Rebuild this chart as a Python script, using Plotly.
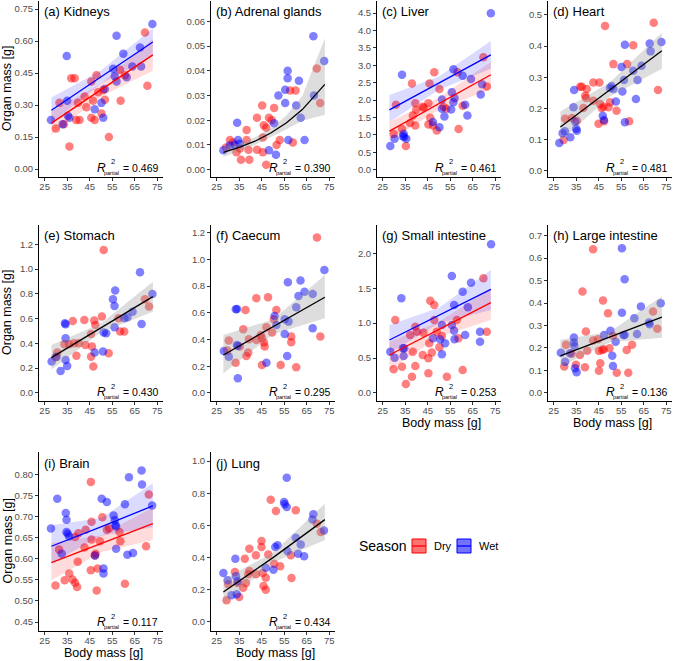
import plotly.graph_objects as go

W, H = 685, 661

# ---------------- data ----------------
xticks = [25, 35, 45, 55, 65, 75]
fit_x3 = [28, 50, 73]
fit_x7 = [28, 35, 42, 49, 56, 63, 73]

# (a) Kidneys
kid_wet_x = [27.8, 33.0, 34.8, 35.0, 35.3, 36.0, 47.2, 50.2, 51.0, 51.7, 55.4, 56.1, 56.9, 56.9, 59.9, 61.4, 63.9, 67.3, 67.8, 72.8]
kid_wet_y = [0.23, 0.21, 0.53, 0.32, 0.25, 0.24, 0.28, 0.31, 0.24, 0.375, 0.47, 0.435, 0.625, 0.41, 0.54, 0.43, 0.48, 0.57, 0.48, 0.68]
kid_dry_x = [30.0, 31.6, 33.5, 36.0, 36.8, 38.3, 39.0, 39.8, 40.5, 42.7, 43.5, 45.7, 45.7, 46.5, 47.2, 48.0, 48.7, 50.2, 51.0, 51.7, 53.5, 58.4, 58.7, 60.6, 69.5, 70.6]
kid_dry_y = [0.19, 0.31, 0.21, 0.105, 0.425, 0.425, 0.23, 0.31, 0.23, 0.34, 0.29, 0.24, 0.41, 0.32, 0.23, 0.44, 0.36, 0.26, 0.37, 0.325, 0.15, 0.465, 0.32, 0.44, 0.64, 0.39]
kid_fit_wet = [0.275, 0.431, 0.595]
kid_lo_wet = [0.215, 0.400, 0.530]
kid_hi_wet = [0.335, 0.462, 0.660]
kid_fit_dry = [0.215, 0.371, 0.535]
kid_lo_dry = [0.160, 0.340, 0.460]
kid_hi_dry = [0.270, 0.400, 0.610]
kid_yticks = [0.0, 0.15, 0.30, 0.45, 0.60, 0.75]
kid_ylabels = ["0.00", "0.15", "0.30", "0.45", "0.60", "0.75"]

# (b) Adrenal glands
adr_wet_x = [28.0, 30.8, 33.0, 34.1, 34.5, 35.3, 48.2, 50.5, 51.3, 52.4, 55.4, 55.4, 56.5, 56.5, 56.8, 60.3, 61.5, 62.3, 64.0, 67.9, 68.2, 72.7]
adr_wet_y = [0.0078, 0.0098, 0.0101, 0.019, 0.012, 0.0105, 0.0078, 0.0188, 0.006, 0.030, 0.0323, 0.027, 0.040, 0.037, 0.012, 0.026, 0.036, 0.021, 0.012, 0.054, 0.030, 0.044]
adr_dry_x = [29.2, 30.9, 32.3, 33.8, 35.3, 35.8, 38.3, 38.3, 39.1, 39.5, 42.9, 42.9, 45.2, 45.5, 45.5, 45.9, 47.0, 47.0, 48.2, 49.4, 50.5, 51.6, 53.0, 57.6, 58.8, 60.0, 69.4, 70.9]
adr_dry_y = [0.009, 0.012, 0.011, 0.007, 0.0085, 0.004, 0.016, 0.012, 0.008, 0.004, 0.021, 0.008, 0.026, 0.013, 0.007, 0.018, 0.017, 0.002, 0.021, 0.020, 0.025, 0.010, 0.012, 0.032, 0.011, 0.032, 0.041, 0.027]
adr_fit = [0.0070, 0.0090, 0.0115, 0.0148, 0.0190, 0.0243, 0.0345]
adr_lo = [0.0052, 0.0074, 0.0100, 0.0131, 0.0163, 0.0198, 0.0222]
adr_hi = [0.0091, 0.0107, 0.0131, 0.0166, 0.0220, 0.0298, 0.0532]
adr_yticks = [0.0, 0.01, 0.02, 0.03, 0.04, 0.05, 0.06]
adr_ylabels = ["0.00", "0.01", "0.02", "0.03", "0.04", "0.05", "0.06"]

# (c) Liver
liv_wet_x = [28.4, 30.3, 33.6, 34.0, 34.3, 34.6, 35.5, 47.3, 50.2, 51.3, 51.3, 52.4, 55.4, 55.7, 56.4, 56.4, 56.9, 60.5, 61.6, 62.6, 64.2, 68.5, 69.1, 73.0]
liv_wet_y = [0.68, 0.89, 2.73, 0.96, 1.03, 0.94, 0.89, 1.37, 1.22, 2.02, 1.75, 1.53, 1.73, 2.23, 2.89, 1.94, 2.06, 2.70, 1.87, 1.56, 2.61, 2.16, 2.46, 4.5]
liv_dry_x = [29.9, 30.9, 33.6, 35.3, 37.2, 38.0, 38.4, 39.5, 39.5, 39.9, 42.8, 43.2, 45.3, 45.3, 45.8, 46.1, 47.3, 47.9, 49.0, 50.2, 52.0, 53.2, 58.2, 58.7, 60.5, 69.7, 71.2]
liv_dry_y = [1.03, 1.87, 1.17, 0.68, 1.34, 2.48, 1.56, 1.91, 1.27, 1.72, 1.81, 1.78, 1.91, 1.30, 2.48, 1.49, 1.27, 2.80, 1.13, 2.32, 1.81, 1.75, 2.80, 1.17, 1.84, 3.23, 2.39]
liv_fit_wet = [1.72, 2.49, 3.30]
liv_lo_wet = [1.37, 2.30, 2.90]
liv_hi_wet = [2.15, 2.68, 3.70]
liv_fit_dry = [1.11, 1.90, 2.73]
liv_lo_dry = [0.84, 1.73, 2.32]
liv_hi_dry = [1.38, 2.07, 3.10]
liv_yticks = [0.0, 0.5, 1.0, 1.5, 2.0, 2.5, 3.0, 3.5, 4.0, 4.5]
liv_ylabels = ["0.0", "0.5", "1.0", "1.5", "2.0", "2.5", "3.0", "3.5", "4.0", "4.5"]

# (d) Heart
hea_wet_x = [27.5, 29.0, 30.0, 32.4, 33.8, 34.1, 34.6, 35.0, 35.3, 46.8, 47.3, 50.0, 50.7, 51.5, 52.6, 55.1, 55.5, 56.2, 56.6, 56.6, 60.3, 61.5, 62.2, 64.0, 67.6, 68.0, 72.8]
hea_wet_y = [0.088, 0.12, 0.126, 0.107, 0.203, 0.259, 0.157, 0.134, 0.128, 0.176, 0.162, 0.265, 0.272, 0.262, 0.222, 0.333, 0.254, 0.291, 0.404, 0.155, 0.321, 0.230, 0.291, 0.337, 0.408, 0.383, 0.413]
hea_dry_x = [29.4, 30.1, 33.1, 35.3, 36.8, 37.5, 38.2, 39.0, 39.4, 39.7, 42.6, 42.6, 44.9, 45.3, 45.6, 46.3, 47.1, 47.4, 47.8, 49.3, 50.0, 51.5, 52.9, 57.6, 58.5, 60.3, 69.4, 71.3]
hea_dry_y = [0.098, 0.166, 0.169, 0.160, 0.269, 0.269, 0.201, 0.240, 0.233, 0.262, 0.224, 0.283, 0.150, 0.283, 0.214, 0.201, 0.205, 0.158, 0.465, 0.203, 0.219, 0.342, 0.192, 0.342, 0.158, 0.403, 0.475, 0.259]
hea_fit = [0.140, 0.260, 0.385]
hea_lo = [0.095, 0.238, 0.327]
hea_hi = [0.190, 0.284, 0.443]
hea_yticks = [0.0, 0.1, 0.2, 0.3, 0.4, 0.5]
hea_ylabels = ["0.0", "0.1", "0.2", "0.3", "0.4", "0.5"]

# (e) Stomach
sto_wet_x = [28.1, 30.3, 32.1, 34.0, 34.3, 34.3, 34.3, 35.0, 47.2, 50.9, 51.2, 52.3, 55.3, 56.0, 56.3, 56.0, 60.4, 61.7, 64.0, 67.3, 68.0, 72.8]
sto_wet_y = [0.253, 0.293, 0.178, 0.562, 0.554, 0.441, 0.266, 0.218, 0.326, 0.334, 0.487, 0.482, 0.756, 0.702, 0.826, 0.530, 0.603, 0.611, 0.656, 0.974, 0.557, 0.799]
sto_dry_x = [29.9, 30.6, 33.8, 35.8, 37.5, 38.0, 39.1, 40.1, 42.6, 43.1, 45.6, 45.6, 46.0, 46.6, 47.0, 47.5, 50.4, 51.2, 53.4, 57.8, 58.5, 60.3, 69.5, 71.3]
sto_dry_y = [0.288, 0.326, 0.393, 0.393, 0.581, 0.401, 0.301, 0.401, 0.589, 0.387, 0.293, 0.476, 0.374, 0.213, 0.584, 0.549, 0.616, 1.154, 0.320, 0.603, 0.495, 0.495, 0.756, 0.697]
sto_fit = [0.285, 0.525, 0.777]
sto_lo = [0.190, 0.490, 0.656]
sto_hi = [0.387, 0.560, 0.898]
sto_yticks = [0.0, 0.2, 0.4, 0.6, 0.8, 1.0, 1.2]
sto_ylabels = ["0.0", "0.2", "0.4", "0.6", "0.8", "1.0", "1.2"]

# (f) Caecum
cae_wet_x = [28.2, 30.4, 33.5, 34.0, 34.0, 34.4, 34.4, 47.1, 50.7, 51.5, 55.2, 55.2, 56.3, 56.6, 56.9, 60.3, 61.3, 62.2, 64.0, 67.6, 67.6, 72.8]
cae_wet_y = [0.314, 0.272, 0.626, 0.629, 0.359, 0.352, 0.110, 0.227, 0.576, 0.509, 0.551, 0.442, 0.277, 0.828, 0.534, 0.641, 0.726, 0.841, 0.758, 0.741, 0.484, 0.921]
cae_dry_x = [29.7, 30.4, 33.4, 35.3, 36.8, 37.8, 38.2, 39.0, 39.3, 42.6, 42.6, 44.6, 45.1, 45.1, 46.0, 46.3, 47.1, 47.8, 49.6, 50.4, 51.5, 53.4, 58.1, 58.1, 60.3, 69.5, 71.0]
cae_dry_y = [0.317, 0.392, 0.227, 0.347, 0.477, 0.621, 0.277, 0.302, 0.402, 0.709, 0.397, 0.434, 0.409, 0.210, 0.377, 0.347, 0.492, 0.716, 0.452, 0.551, 0.621, 0.210, 0.422, 0.379, 0.192, 1.163, 0.422]
cae_fit = [0.284, 0.495, 0.716]
cae_lo = [0.147, 0.440, 0.559]
cae_hi = [0.434, 0.550, 0.883]
cae_yticks = [0.0, 0.2, 0.4, 0.6, 0.8, 1.0, 1.2]
cae_ylabels = ["0.0", "0.2", "0.4", "0.6", "0.8", "1.0", "1.2"]

# (g) Small intestine
sin_wet_x = [28.4, 30.3, 33.3, 34.0, 34.3, 34.6, 47.3, 50.5, 51.3, 51.3, 52.7, 55.7, 55.7, 56.7, 56.7, 56.9, 60.5, 61.6, 62.8, 64.2, 68.2, 68.2, 73.1]
sin_wet_y = [0.592, 0.506, 1.356, 0.640, 0.530, 0.640, 0.783, 0.769, 0.974, 0.554, 0.711, 1.675, 0.974, 0.893, 1.260, 0.769, 1.451, 0.831, 1.227, 1.580, 0.878, 0.735, 2.129]
sin_dry_x = [29.9, 30.6, 33.6, 35.3, 37.2, 38.0, 38.4, 39.5, 39.5, 40.2, 42.8, 43.1, 45.3, 45.3, 45.7, 46.1, 46.8, 47.9, 47.9, 49.0, 50.2, 51.3, 53.5, 57.9, 58.6, 60.5, 69.7, 71.2]
sin_dry_y = [0.339, 1.045, 0.377, 0.129, 0.831, 0.234, 0.592, 0.950, 0.387, 0.878, 0.544, 0.864, 0.496, 0.282, 0.711, 1.322, 0.578, 1.260, 1.045, 0.878, 0.654, 0.816, 0.234, 1.045, 0.783, 0.329, 1.642, 0.878]
sin_fit_wet = [0.759, 1.110, 1.485]
sin_lo_wet = [0.568, 1.000, 1.189]
sin_hi_wet = [0.974, 1.220, 1.761]
sin_fit_dry = [0.544, 0.910, 1.294]
sin_lo_dry = [0.329, 0.800, 1.045]
sin_hi_dry = [0.735, 1.020, 1.499]
sin_yticks = [0.0, 0.5, 1.0, 1.5, 2.0]
sin_ylabels = ["0.0", "0.5", "1.0", "1.5", "2.0"]

# (h) Large intestine
lin_wet_x = [28.2, 30.1, 32.3, 34.0, 34.0, 34.2, 34.5, 35.2, 47.4, 50.2, 51.0, 51.3, 52.5, 55.3, 55.3, 56.0, 56.5, 56.5, 60.8, 62.0, 63.7, 67.3, 67.6, 72.5]
lin_wet_y = [0.179, 0.139, 0.176, 0.246, 0.224, 0.209, 0.110, 0.092, 0.258, 0.277, 0.165, 0.120, 0.228, 0.644, 0.357, 0.258, 0.506, 0.258, 0.332, 0.262, 0.384, 0.313, 0.306, 0.399]
lin_dry_x = [29.7, 30.5, 33.0, 34.9, 36.7, 37.8, 38.9, 39.3, 39.9, 42.5, 42.5, 44.7, 45.1, 45.1, 45.7, 46.6, 46.9, 47.2, 49.1, 49.8, 51.3, 53.0, 57.4, 58.1, 59.8, 69.1, 71.0]
lin_dry_y = [0.117, 0.214, 0.174, 0.125, 0.169, 0.451, 0.114, 0.273, 0.188, 0.639, 0.233, 0.239, 0.187, 0.099, 0.132, 0.191, 0.411, 0.194, 0.354, 0.199, 0.254, 0.090, 0.191, 0.090, 0.214, 0.362, 0.285]
lin_fit = [0.165, 0.248, 0.337]
lin_lo = [0.118, 0.225, 0.245]
lin_hi = [0.237, 0.272, 0.430]
lin_yticks = [0.0, 0.1, 0.2, 0.3, 0.4, 0.5, 0.6, 0.7]
lin_ylabels = ["0.0", "0.1", "0.2", "0.3", "0.4", "0.5", "0.6", "0.7"]

# (i) Brain
bra_wet_x = [27.8, 30.6, 32.6, 34.4, 34.7, 34.7, 35.2, 35.9, 47.3, 50.3, 51.1, 51.1, 52.6, 55.6, 56.1, 56.4, 56.7, 56.7, 60.6, 61.7, 62.4, 64.2, 68.0, 68.2, 72.7]
bra_wet_y = [0.672, 0.743, 0.612, 0.709, 0.693, 0.664, 0.660, 0.653, 0.608, 0.743, 0.577, 0.565, 0.735, 0.703, 0.692, 0.680, 0.677, 0.624, 0.730, 0.610, 0.794, 0.614, 0.810, 0.777, 0.727]
bra_dry_x = [29.8, 31.4, 33.9, 35.9, 37.4, 38.5, 38.5, 39.4, 39.7, 40.0, 42.7, 43.2, 45.5, 45.5, 45.8, 45.8, 47.3, 47.6, 48.1, 48.5, 49.5, 50.6, 52.6, 53.6, 58.2, 58.6, 60.6, 70.0, 71.2]
bra_dry_y = [0.537, 0.622, 0.549, 0.565, 0.551, 0.543, 0.652, 0.533, 0.593, 0.661, 0.627, 0.669, 0.573, 0.783, 0.688, 0.646, 0.608, 0.612, 0.525, 0.577, 0.642, 0.699, 0.669, 0.673, 0.664, 0.642, 0.541, 0.630, 0.753]
bra_fit_wet = [0.630, 0.676, 0.726]
bra_lo_wet = [0.589, 0.655, 0.675]
bra_hi_wet = [0.680, 0.697, 0.780]
bra_fit_dry = [0.591, 0.636, 0.684]
bra_lo_dry = [0.549, 0.616, 0.645]
bra_hi_dry = [0.638, 0.656, 0.722]
bra_yticks = [0.45, 0.50, 0.55, 0.60, 0.65, 0.70, 0.75, 0.80]
bra_ylabels = ["0.45", "0.50", "0.55", "0.60", "0.65", "0.70", "0.75", "0.80"]

# (j) Lung
lun_wet_x = [28.0, 29.9, 31.6, 33.3, 33.6, 33.9, 34.3, 46.8, 50.2, 51.0, 52.0, 54.9, 55.2, 56.1, 56.1, 56.4, 60.1, 61.1, 62.3, 63.8, 67.5, 67.9, 72.6]
lun_wet_y = [0.304, 0.259, 0.166, 0.393, 0.284, 0.172, 0.253, 0.337, 0.325, 0.466, 0.476, 0.745, 0.731, 0.714, 0.896, 0.441, 0.524, 0.424, 0.482, 0.408, 0.636, 0.669, 0.569]
lun_dry_x = [29.4, 30.2, 33.1, 34.3, 35.0, 36.8, 37.5, 38.0, 39.0, 39.5, 39.5, 42.4, 42.4, 44.9, 44.9, 45.4, 45.8, 46.8, 46.8, 47.9, 49.0, 50.5, 51.3, 53.2, 57.9, 58.2, 60.1, 69.4, 71.2]
lun_dry_y = [0.135, 0.234, 0.311, 0.242, 0.155, 0.213, 0.393, 0.242, 0.296, 0.317, 0.455, 0.414, 0.296, 0.503, 0.466, 0.304, 0.224, 0.201, 0.275, 0.420, 0.760, 0.362, 0.689, 0.346, 0.414, 0.273, 0.694, 0.611, 0.559]
lun_fit = [0.186, 0.400, 0.636]
lun_lo = [0.110, 0.370, 0.510]
lun_hi = [0.265, 0.430, 0.735]
lun_yticks = [0.0, 0.2, 0.4, 0.6, 0.8, 1.0]
lun_ylabels = ["0.0", "0.2", "0.4", "0.6", "0.8", "1.0"]

titles = ["(a) Kidneys", "(b) Adrenal glands", "(c) Liver", "(d) Heart", "(e) Stomach",
          "(f) Caecum", "(g) Small intestine", "(h) Large intestine", "(i) Brain", "(j) Lung"]
r2_values = ["0.469", "0.390", "0.461", "0.481", "0.430", "0.295", "0.253", "0.136", "0.117", "0.434"]

# ---------------- layout geometry (pixels) ----------------
COL_L = [39, 211, 377, 548]
PW = 124
ROW_T = [1, 225, 452]
ROW_B = [177, 401, 631]
FONT = "Liberation Sans, Arial, sans-serif"

RED = "#FF0000"
BLUE = "#0000FF"

panels = [
    dict(pos=(0, 0), wet=(kid_wet_x, kid_wet_y), dry=(kid_dry_x, kid_dry_y),
         fits=[(fit_x3, kid_fit_dry, kid_lo_dry, kid_hi_dry, "dry"), (fit_x3, kid_fit_wet, kid_lo_wet, kid_hi_wet, "wet")],
         yr=[-0.0375, 0.7875], yt=kid_yticks, yl=kid_ylabels),
    dict(pos=(0, 1), wet=(adr_wet_x, adr_wet_y), dry=(adr_dry_x, adr_dry_y),
         fits=[(fit_x7, adr_fit, adr_lo, adr_hi, "all")],
         yr=[-0.003, 0.0683], yt=adr_yticks, yl=adr_ylabels),
    dict(pos=(0, 2), wet=(liv_wet_x, liv_wet_y), dry=(liv_dry_x, liv_dry_y),
         fits=[(fit_x3, liv_fit_dry, liv_lo_dry, liv_hi_dry, "dry"), (fit_x3, liv_fit_wet, liv_lo_wet, liv_hi_wet, "wet")],
         yr=[-0.21, 4.85], yt=liv_yticks, yl=liv_ylabels),
    dict(pos=(0, 3), wet=(hea_wet_x, hea_wet_y), dry=(hea_dry_x, hea_dry_y),
         fits=[(fit_x3, hea_fit, hea_lo, hea_hi, "all")],
         yr=[-0.021, 0.545], yt=hea_yticks, yl=hea_ylabels),
    dict(pos=(1, 0), wet=(sto_wet_x, sto_wet_y), dry=(sto_dry_x, sto_dry_y),
         fits=[(fit_x3, sto_fit, sto_lo, sto_hi, "all")],
         yr=[-0.065, 1.355], yt=sto_yticks, yl=sto_ylabels),
    dict(pos=(1, 1), wet=(cae_wet_x, cae_wet_y), dry=(cae_dry_x, cae_dry_y),
         fits=[(fit_x3, cae_fit, cae_lo, cae_hi, "all")],
         yr=[-0.06, 1.257], yt=cae_yticks, yl=cae_ylabels),
    dict(pos=(1, 2), wet=(sin_wet_x, sin_wet_y), dry=(sin_dry_x, sin_dry_y),
         fits=[(fit_x3, sin_fit_dry, sin_lo_dry, sin_hi_dry, "dry"), (fit_x3, sin_fit_wet, sin_lo_wet, sin_hi_wet, "wet")],
         yr=[-0.115, 2.406], yt=sin_yticks, yl=sin_ylabels),
    dict(pos=(1, 3), wet=(lin_wet_x, lin_wet_y), dry=(lin_dry_x, lin_dry_y),
         fits=[(fit_x3, lin_fit, lin_lo, lin_hi, "all")],
         yr=[-0.036, 0.747], yt=lin_yticks, yl=lin_ylabels),
    dict(pos=(2, 0), wet=(bra_wet_x, bra_wet_y), dry=(bra_dry_x, bra_dry_y),
         fits=[(fit_x3, bra_fit_dry, bra_lo_dry, bra_hi_dry, "dry"), (fit_x3, bra_fit_wet, bra_lo_wet, bra_hi_wet, "wet")],
         yr=[0.4286, 0.854], yt=bra_yticks, yl=bra_ylabels),
    dict(pos=(2, 1), wet=(lun_wet_x, lun_wet_y), dry=(lun_dry_x, lun_dry_y),
         fits=[(fit_x3, lun_fit, lun_lo, lun_hi, "all")],
         yr=[-0.056, 1.056], yt=lun_yticks, yl=lun_ylabels),
]

STYLE = {
    "dry": dict(line=RED, fill="rgba(255,0,0,0.14)"),
    "wet": dict(line=BLUE, fill="rgba(0,0,255,0.14)"),
    "all": dict(line="#000000", fill="rgba(150,150,150,0.32)"),
}


def px_x(p):
    return p / W


def px_y(p):
    return 1 - p / H


fig = go.Figure()
annotations = []
shapes = []
layout = {}

for k, p in enumerate(panels, start=1):
    r, c = p["pos"]
    left = COL_L[c]
    right = left + PW
    top = ROW_T[r]
    bottom = ROW_B[r]
    xa = "x" if k == 1 else f"x{k}"
    ya = "y" if k == 1 else f"y{k}"
    xkey = "xaxis" if k == 1 else f"xaxis{k}"
    ykey = "yaxis" if k == 1 else f"yaxis{k}"

    # points
    fig.add_trace(go.Scatter(x=p["dry"][0], y=p["dry"][1], mode="markers", xaxis=xa, yaxis=ya,
                             marker=dict(size=8.5, color="rgba(255,0,0,0.5)", line=dict(width=0)),
                             showlegend=False, hoverinfo="skip"))
    fig.add_trace(go.Scatter(x=p["wet"][0], y=p["wet"][1], mode="markers", xaxis=xa, yaxis=ya,
                             marker=dict(size=8.5, color="rgba(0,0,255,0.5)", line=dict(width=0)),
                             showlegend=False, hoverinfo="skip"))
    # ribbons + lines
    for fx, fy, lo, hi, kind in p["fits"]:
        st = STYLE[kind]
        fig.add_trace(go.Scatter(x=list(fx) + list(fx)[::-1], y=list(lo) + list(hi)[::-1],
                                 mode="lines", fill="toself", fillcolor=st["fill"],
                                 line=dict(width=0), xaxis=xa, yaxis=ya,
                                 showlegend=False, hoverinfo="skip"))
    for fx, fy, lo, hi, kind in p["fits"]:
        st = STYLE[kind]
        fig.add_trace(go.Scatter(x=fx, y=fy, mode="lines", line=dict(color=st["line"], width=1.3),
                                 xaxis=xa, yaxis=ya, showlegend=False, hoverinfo="skip"))

    common = dict(showgrid=False, zeroline=False, showline=True, linecolor="#000000", linewidth=1,
                  ticks="outside", ticklen=3, tickwidth=1, tickcolor="#333333",
                  tickfont=dict(family=FONT, size=9.5, color="#4D4D4D"), fixedrange=True)
    layout[xkey] = dict(domain=[px_x(left), px_x(right)], range=[22.5, 77.5], tickvals=xticks,
                        ticktext=[str(v) for v in xticks], anchor=ya, ticklabelstandoff=-2, **common)
    layout[ykey] = dict(domain=[px_y(bottom), px_y(top)], range=p["yr"], tickvals=p["yt"],
                        ticktext=p["yl"], anchor=xa, **common)

    # panel title
    annotations.append(dict(text=titles[k - 1], x=px_x(left + 3), y=px_y(top + 11), xref="paper", yref="paper",
                            xanchor="left", yanchor="middle", showarrow=False,
                            font=dict(family=FONT, size=13, color="#000000")))
    # R^2 partial label (stacked super/subscript built from separate pieces)
    R = right - 3
    B = bottom - 9
    annotations.append(dict(text="= " + r2_values[k - 1], x=px_x(R), y=px_y(B), xref="paper", yref="paper",
                            xanchor="right", yanchor="middle", showarrow=False,
                            font=dict(family=FONT, size=10.5, color="#000000")))
    annotations.append(dict(text="partial", x=px_x(R - 39), y=px_y(B + 4.5), xref="paper", yref="paper",
                            xanchor="right", yanchor="middle", showarrow=False,
                            font=dict(family=FONT, size=5.5, color="#000000")))
    annotations.append(dict(text="2", x=px_x(R - 51), y=px_y(B - 6), xref="paper", yref="paper",
                            xanchor="left", yanchor="middle", showarrow=False,
                            font=dict(family=FONT, size=7.5, color="#000000")))
    annotations.append(dict(text="<i>R</i>", x=px_x(R - 52), y=px_y(B - 0.5), xref="paper", yref="paper",
                            xanchor="right", yanchor="middle", showarrow=False,
                            font=dict(family=FONT, size=12, color="#000000")))

# axis titles
for r in range(3):
    annotations.append(dict(text="Organ mass [g]", x=px_x(7), y=px_y((ROW_T[r] + ROW_B[r]) / 2),
                            xref="paper", yref="paper", xanchor="center", yanchor="middle",
                            textangle=-90, showarrow=False,
                            font=dict(family=FONT, size=12.5, color="#000000")))
for (r, c) in [(1, 2), (1, 3), (2, 0), (2, 1)]:
    annotations.append(dict(text="Body mass [g]", x=px_x(COL_L[c] + PW / 2 + 2), y=px_y(ROW_B[r] + 22),
                            xref="paper", yref="paper", xanchor="center", yanchor="middle",
                            showarrow=False, font=dict(family=FONT, size=12.5, color="#000000")))

# legend (Season)
LY = 546
annotations.append(dict(text="Season", x=px_x(357), y=px_y(LY), xref="paper", yref="paper",
                        xanchor="left", yanchor="middle", showarrow=False,
                        font=dict(family=FONT, size=14, color="#000000")))
for x0, col, fill, lab in [(412, RED, "rgba(255,0,0,0.55)", "Dry"), (457, BLUE, "rgba(0,0,255,0.55)", "Wet")]:
    shapes.append(dict(type="rect", xref="paper", yref="paper", x0=px_x(x0), x1=px_x(x0 + 14),
                       y0=px_y(LY + 7), y1=px_y(LY - 7), fillcolor=fill, line=dict(color=col, width=1)))
    shapes.append(dict(type="line", xref="paper", yref="paper", x0=px_x(x0), x1=px_x(x0 + 14),
                       y0=px_y(LY), y1=px_y(LY), line=dict(color=col, width=1.3)))
    annotations.append(dict(text=lab, x=px_x(x0 + 20), y=px_y(LY), xref="paper", yref="paper",
                            xanchor="left", yanchor="middle", showarrow=False,
                            font=dict(family=FONT, size=11, color="#000000")))

fig.update_layout(width=W, height=H, margin=dict(l=0, r=0, t=0, b=0),
                  paper_bgcolor="white", plot_bgcolor="white",
                  annotations=annotations, shapes=shapes, showlegend=False,
                  font=dict(family=FONT), **layout)

fig.write_html("out.html", config={"displayModeBar": False})
